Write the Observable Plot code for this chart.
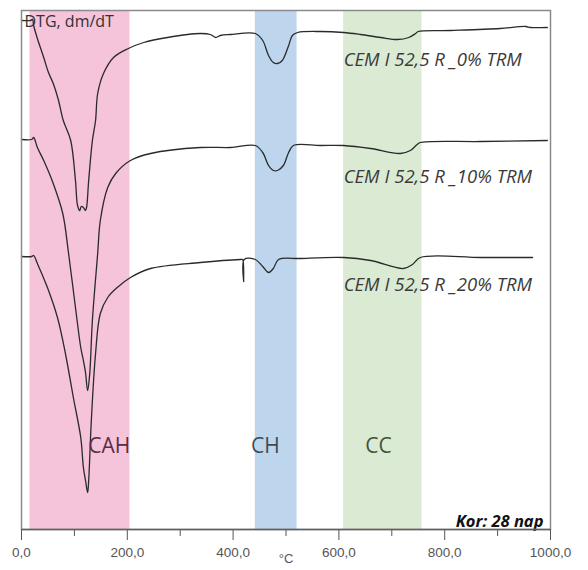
<!DOCTYPE html>
<html>
<head>
<meta charset="utf-8">
<script src="https://cdn.jsdelivr.net/npm/d3@7"></script>
<script src="https://cdn.jsdelivr.net/npm/@observablehq/plot@0.6"></script>
<style>
  html, body { margin: 0; padding: 0; background: #fff; }
  #chart { width: 588px; height: 570px; overflow: hidden; }
</style>
</head>
<body>
<div id="chart"></div>
<script>
// Temperature (°C) and DTG readings (arbitrary offset units) for each sample
const t0 = [0,17,21,23,30,42,51,60,70,79,93,102,106,110,113,117,121,123,127,134,140,144,155,174,202,231,276,338,357,367,376,395,442,456,467,476,484,493,505,512,522,565,609,641,679,711,732,745,750,811,905,953,962,994];
const v0 = [509,509,510,504,491,472,457,446,429,409,389,349,324,319,323,322,319,322,349,389,409,436,456,472,481,487,492,496,495,492,494,495,496,489,474,467,466,469,484,494,497,498,497,495,492,490,492,496,498,499,501,503,502,502];

const t10 = [0,19,23,30,42,60,78,89,102,112,117,121,125,129,134,144,149,163,178,206,244,338,395,442,456,467,476,484,495,505,514,565,609,660,716,735,748,754,868,994];
const v10 = [390,390,392,382,369,346,316,276,222,182,169,157,139,156,209,276,309,342,356,369,376,382,382,384,377,364,359,359,364,377,384,384,384,381,376,379,385,387,388,389];

const t20 = [0,19,23,30,49,68,83,98,112,117,121,125,127,132,140,149,163,181,206,244,338,414,418,420,421,442,456,467,476,486,527,609,660,722,739,754,868,966];
const v20 = [273,273,274,266,242,212,176,132,92,62,49,37,49,109,176,216,232,242,252,261,267,270,270,248,270,270,263,257,261,270,271,272,269,261,265,272,272,272];

const seriesNames = ["CEM I 52,5 R _0% TRM", "CEM I 52,5 R _10% TRM", "CEM I 52,5 R _20% TRM"];
const seriesLabelT = [609, 609, 609];
const seriesLabelV = [469, 352, 244];

// Decomposition zones
const zoneNames = ["CAH", "CH", "CC"];
const zoneStart = [16, 442, 609];
const zoneEnd = [205, 521, 757];
const zoneFill = ["#f5c3da", "#bdd6ee", "#dbead3"];
const zoneText = ["#5b2c45", "#3f4a55", "#44523f"];
const zoneLabelT = [166, 461, 675];
const zoneLabelV = [83, 83, 83];

const majorTicks = [0, 200, 400, 600, 800, 1000];
const minorTicks = [100, 300, 500, 700, 900];

const toRows = (ts, vs, s) => ts.map((t, i) => ({t, v: vs[i], s}));
const curves = [
  ...toRows(t0, v0, seriesNames[0]),
  ...toRows(t10, v10, seriesNames[1]),
  ...toRows(t20, v20, seriesNames[2])
];
const zones = zoneNames.map((n, i) => ({n, x1: zoneStart[i], x2: zoneEnd[i], fill: zoneFill[i], text: zoneText[i], lt: zoneLabelT[i], lv: zoneLabelV[i]}));
const seriesLabels = seriesNames.map((n, i) => ({n, t: seriesLabelT[i], v: seriesLabelV[i]}));
const fmt = d => d.toFixed(1).replace(".", ",");

const chart = Plot.plot({
  width: 588,
  height: 570,
  marginLeft: 21,
  marginRight: 38,
  marginTop: 10,
  marginBottom: 41,
  style: {fontFamily: "'Open Sans', sans-serif", background: "#fff"},
  x: {domain: [0, 1000]},
  y: {domain: [0, 519], axis: null},
  marks: [
    Plot.rect(zones, {x1: "x1", x2: "x2", fill: "fill"}),
    Plot.line(curves, {x: "t", y: "v", z: "s", stroke: "#2a2a2a", strokeWidth: 1.3, curve: "catmull-rom"}),
    Plot.text(seriesLabels, {x: "t", y: "v", text: "n", textAnchor: "start", fontSize: 18.5, fontStyle: "italic", fill: "#3a3a3a"}),
    Plot.text(zones, {x: "lt", y: "lv", text: "n", fill: "text", fontSize: 21}),
    Plot.text(["DTG, dm/dT"], {frameAnchor: "top-left", dx: 3, dy: 5, fontSize: 16, fill: "#333"}),
    Plot.text(["Kor: 28 nap"], {frameAnchor: "bottom-right", dx: -7, dy: -3, fontSize: 16.5, fontWeight: "bold", fontStyle: "italic", fill: "#111"}),
    Plot.frame({stroke: "#8a8a8a", strokeWidth: 1.5}),
    Plot.axisX({ticks: minorTicks, tickSize: 7, tickFormat: () => "", label: null, color: "#555"}),
    Plot.axisX({ticks: majorTicks, tickSize: 11, tickPadding: 7, tickFormat: fmt, label: null, fontSize: 13.5, color: "#555", fontFamily: "'Liberation Sans', Arial, sans-serif"}),
    Plot.ruleY([0], {stroke: "#606060", strokeWidth: 1.5}),
    Plot.text(["°C"], {frameAnchor: "bottom", dy: 33, fontSize: 13, fill: "#555", fontFamily: "'Liberation Sans', Arial, sans-serif"})
  ]
});
document.getElementById("chart").appendChild(chart);
</script>
</body>
</html>
